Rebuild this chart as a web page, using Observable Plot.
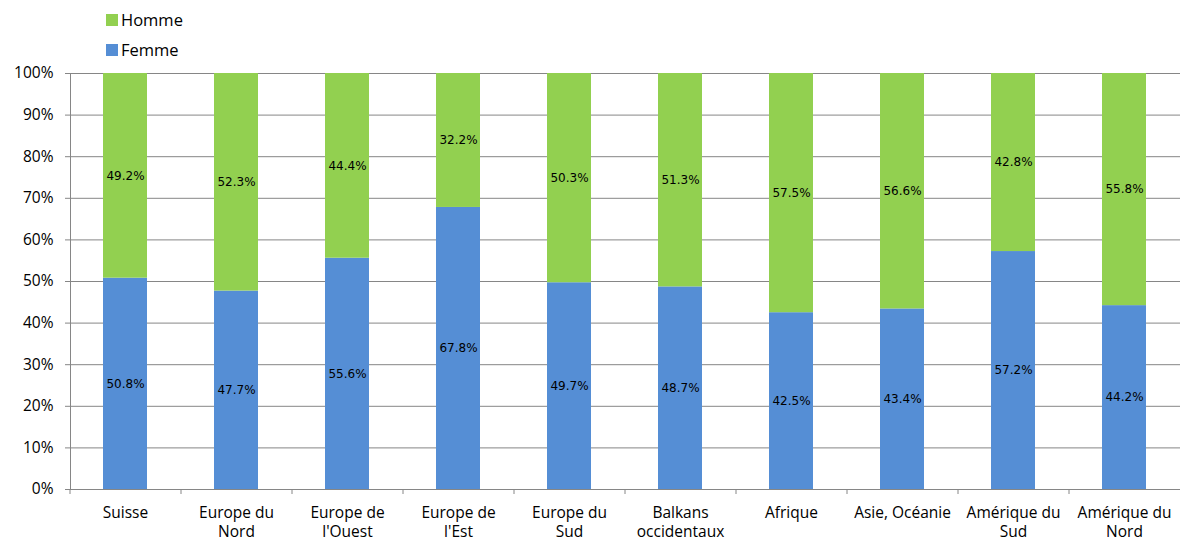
<!DOCTYPE html>
<html>
<head>
<meta charset="utf-8">
<script src="https://cdn.jsdelivr.net/npm/d3@7"></script>
<script src="https://cdn.jsdelivr.net/npm/@observablehq/plot@0.6"></script>
<style>
  html, body { margin: 0; padding: 0; background: #fff; overflow: hidden; }
  #wrap { position: relative; width: 1180px; height: 543px; }
  .legend { position: absolute; left: 106px; font: 16.5px "Open Sans", Lato, sans-serif; color: #000; display: flex; align-items: center; line-height: 1; }
  .legend span.sw { display: inline-block; width: 12px; height: 12px; margin-right: 3px; }
</style>
</head>
<body>
<div id="wrap"></div>
<script>
const categories = ["Suisse", "Europe du\nNord", "Europe de\nl'Ouest", "Europe de\nl'Est", "Europe du\nSud", "Balkans\noccidentaux", "Afrique", "Asie, Océanie", "Amérique du\nSud", "Amérique du\nNord"];
const femme = [50.8, 47.7, 55.6, 67.8, 49.7, 48.7, 42.5, 43.4, 57.2, 44.2];
const homme = [49.2, 52.3, 44.4, 32.2, 50.3, 51.3, 57.5, 56.6, 42.8, 55.8];
const seriesNames = ["Homme", "Femme"];
const seriesColors = ["#92d050", "#558ed5"];
const yTicks = [0, 10, 20, 30, 40, 50, 60, 70, 80, 90, 100];

const data = [];
categories.forEach((c, i) => data.push({cat: c, sex: "Femme", v: femme[i]}));
categories.forEach((c, i) => data.push({cat: c, sex: "Homme", v: homme[i]}));

const W = 1180, ML = 70, MR = 0;
const step = (W - ML - MR) / categories.length;
const axisFont = "'Open Sans', Lato, sans-serif";

const chart = Plot.plot({
  width: W,
  height: 543,
  marginLeft: ML,
  marginRight: MR,
  marginTop: 73,
  marginBottom: 54,
  style: {fontFamily: axisFont, fontSize: "15.5px", color: "#000", background: "#fff"},
  x: {domain: categories, paddingInner: 0.6, paddingOuter: 0.3, label: null},
  y: {domain: [0, 100], label: null},
  color: {domain: seriesNames, range: seriesColors},
  marks: [
    Plot.gridY(yTicks, {stroke: "#868686", strokeOpacity: 1, strokeWidth: 1}),
    Plot.barY(data, Plot.stackY({x: "cat", y: "v", fill: "sex"})),
    Plot.text(data, Plot.stackY({x: "cat", y: "v", text: d => d.v.toFixed(1) + "%", fontFamily: "'DejaVu Sans', sans-serif", fontSize: 12, fill: "#000"})),
    Plot.ruleY([0], {stroke: "#868686"}),
    Plot.frame({anchor: "left", stroke: "#868686"}),
    Plot.axisY(yTicks, {tickFormat: d => d + "%", tickSize: 5, tickPadding: 12, stroke: "#868686", fontSize: 15.5, label: null}),
    Plot.axisX({tickSize: 5, dx: -step / 2, tickFormat: () => "", stroke: "#868686", label: null}),
    Plot.axisX({tickSize: 0, tickPadding: 14, lineHeight: 1.28, fontSize: 15.5, label: null})
  ]
});

const wrap = document.getElementById("wrap");
wrap.appendChild(chart);
seriesNames.forEach((name, i) => {
  const d = document.createElement("div");
  d.className = "legend";
  d.style.top = (12 + i * 30) + "px";
  d.innerHTML = `<span class="sw" style="background:${seriesColors[i]}"></span>${name}`;
  wrap.appendChild(d);
});
</script>
</body>
</html>
